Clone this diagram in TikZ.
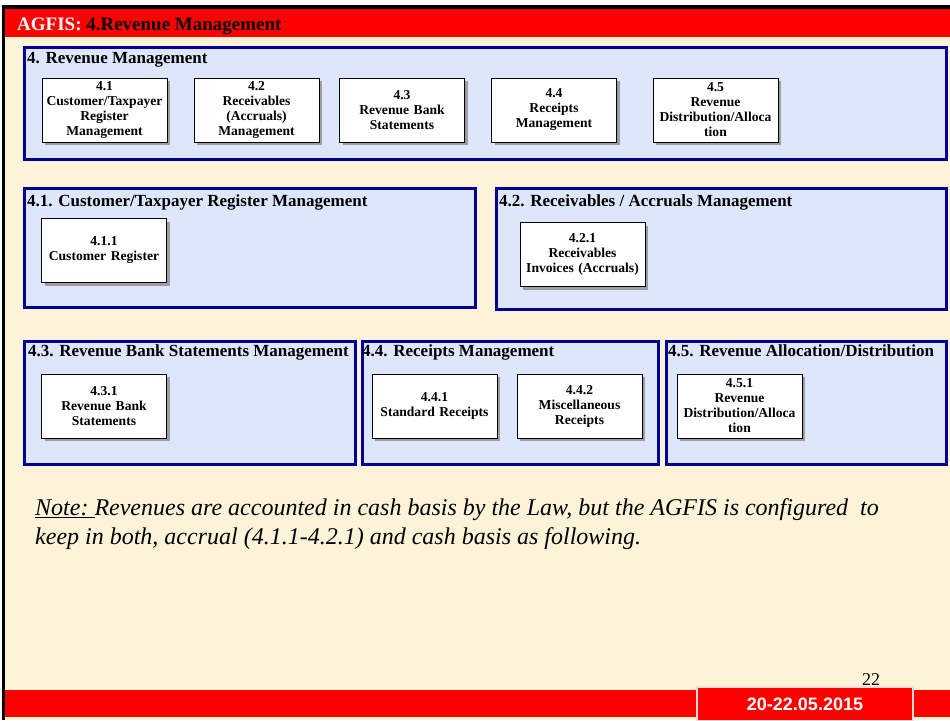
\documentclass[tikz,border=0pt]{standalone}
\usepackage{fontspec}
\setmainfont{Liberation Serif}
\setsansfont{Liberation Sans}
\usetikzlibrary{positioning,shadows}
\definecolor{cream}{RGB}{252,243,216}
\definecolor{panelblue}{RGB}{221,230,250}
\definecolor{paneledge}{RGB}{0,0,150}

\begin{document}
\begin{tikzpicture}[x=1pt,y=-1pt,
        panel/.style={draw=paneledge, line width=2.5pt, fill=panelblue, anchor=north west, inner sep=0pt},
        ptitle/.style={anchor=base west, inner sep=0pt, font=\bfseries\fontsize{17}{19}\selectfont},
        leaf/.style={draw, fill=white, line width=0.9pt, minimum width=125pt, minimum height=64pt, text width=123pt,
            align=center, inner sep=0pt, font=\bfseries\fontsize{13.6}{15}\selectfont,
            drop shadow={shadow xshift=3pt, shadow yshift=-3pt, fill=black!45, opacity=0.8}}]
        \useasboundingbox (0,0) rectangle (950,720);
        \fill[cream] (5,5) rectangle (950,720);                      % slide background
        \fill[red] (5,9) rectangle (950,37);                        % top bar
        \fill[red] (5,690) rectangle (950,717);                     % bottom bar
        \draw[line width=3.5pt] (3.5,720) -- (3.5,7) -- (950,7);     % black frame

        \node[anchor=base west, inner sep=0pt, font=\bfseries\fontsize{19}{21}\selectfont] (head) at (17,30)
            {\textcolor{white}{AGFIS:} 4.Revenue Management};

        % the panels, given by their north west corner
        \node[panel, minimum width=922pt, minimum height=112pt] (p4) at (23,46) {};
        \node[panel, minimum width=451pt, minimum height=119pt] (p41) at (23,187) {};
        \node[panel, minimum width=450pt, minimum height=121pt] (p42) at (495,187) {};
        \node[panel, minimum width=331pt, minimum height=123pt] (p43) at (23,340) {};
        \node[panel, minimum width=296pt, minimum height=123pt] (p44) at (361,340) {};
        \node[panel, minimum width=280pt, minimum height=123pt] (p45) at (665,340) {};

        \node[ptitle] (t4) at (27,63) {4. Revenue Management};
        \node[ptitle] (t41) at (27,206) {4.1. Customer/Taxpayer Register Management};
        \node[ptitle] (t42) at (499,206) {4.2. Receivables / Accruals Management};
        \node[ptitle] (t43) at (28,356) {4.3. Revenue Bank Statements Management};
        \node[ptitle] (t44) at (362,356) {4.4. Receipts Management};
        \node[ptitle] (t45) at (668,356) {4.5. Revenue Allocation/Distribution};

        % the function boxes
        \node[leaf] (b41) at (104.5,110) {4.1\\Customer/Taxpayer\\Register\\Management};
        \node[leaf] (b42) at (256.5,110) {4.2\\Receivables\\(Accruals)\\Management};
        \node[leaf] (b43) at (402,110) {4.3\\Revenue Bank\\Statements};
        \node[leaf] (b44) at (554,110) {4.4\\Receipts\\Management};
        \node[leaf] (b45) at (715.5,110) {4.5\\Revenue\\Distribution/Alloca\\tion};
        \node[leaf] (b411) at (104,250.5) {4.1.1\\Customer Register};
        \node[leaf] (b421) at (582.5,254.5) {4.2.1\\Receivables\\Invoices (Accruals)};
        \node[leaf] (b431) at (104,406) {4.3.1\\Revenue Bank\\Statements};
        \node[leaf] (b441) at (434.5,406) {4.4.1\\Standard Receipts};
        \node[leaf] (b442) at (579.5,406) {4.4.2\\Miscellaneous\\Receipts};
        \node[leaf] (b451) at (739.5,406) {4.5.1\\Revenue\\Distribution/Alloca\\tion};

        \node[anchor=north west, inner sep=0pt, align=left, font=\itshape\fontsize{24}{29}\selectfont] (note) at (35,498.5)
            {\underline{Note:\ }Revenues are accounted in cash basis by the Law, but the AGFIS is configured \ to\\
             keep in both, accrual (4.1.1-4.2.1) and cash basis as following.};

        \node[draw=red!15!white, line width=1.2pt, fill=red, minimum width=216pt, minimum height=34pt, inner sep=0pt,
            font=\sffamily\bfseries\fontsize{18}{20}\selectfont, text=white] (date) at (805,704) {20-22.05.2015};
        \node[anchor=base, inner sep=0pt, font=\fontsize{18}{20}\selectfont] (page) at (871,685) {22};
    \end{tikzpicture}
\end{document}
